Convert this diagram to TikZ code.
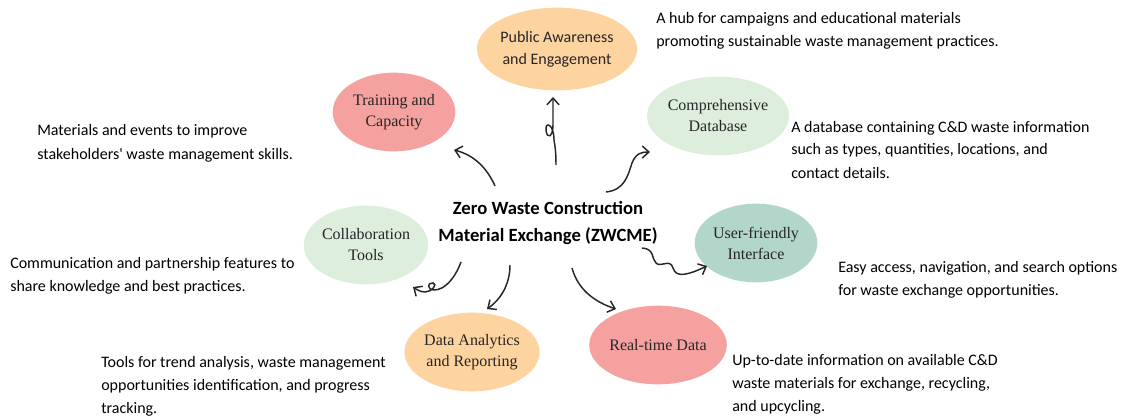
\documentclass[tikz,border=0pt]{standalone}
\usepackage{fontspec}
\setmainfont{Liberation Serif}
\newfontfamily\calibri{Carlito}
\usepackage{tikz}
\usetikzlibrary{arrows.meta,shapes}
\definecolor{peach}{HTML}{FDD3A0}
\definecolor{rose}{HTML}{F4A19F}
\definecolor{mint}{HTML}{DDEEDC}
\definecolor{sage}{HTML}{B3D6CA}
\tikzstyle{feature}=[ellipse,minimum width=92pt,minimum height=59pt,inner sep=0pt,align=center,text=black!85,font=\fontsize{12}{15.75}\selectfont]
\tikzstyle{note}=[anchor=base west,inner sep=0pt,align=left,font=\calibri\fontsize{12}{17.25}\selectfont]
\tikzstyle{link} = [draw,line width=1.1pt,black!85,-{Straight Barb[length=5pt,width=9pt]}]

\begin{document}
\begin{tikzpicture}[x=0.75pt,y=-0.75pt]
        \useasboundingbox (0,0) rectangle (1126,417);
        % centre
        \node[align=center,font=\calibri\bfseries\fontsize{14}{20.25}\selectfont] (zwcme) at (548,223) {Zero Waste Construction\\Material Exchange (ZWCME)};
        % features
        \node[feature,fill=peach,minimum width=101pt,minimum height=62pt,font=\calibri\fontsize{12}{16.5}\selectfont] (public) at (557,49) {Public Awareness\\and Engagement};
        \node[feature,fill=rose] (training) at (394,112) {Training and\\Capacity};
        \node[feature,fill=mint] (database) at (718,116) {Comprehensive\\Database};
        \node[feature,fill=mint] (collab) at (366,245) {Collaboration\\Tools};
        \node[feature,fill=sage] (interface) at (756,243) {User-friendly\\Interface};
        \node[feature,fill=peach] (analytics) at (472,352) {Data Analytics\\and Reporting};
        \node[feature,fill=rose] (realtime) at (658,345) {Real-time Data};
        % notes (placed at the baseline of their last line)
        \node[note] (publicnote) at (656,47) {A hub for campaigns and educational materials\\promoting sustainable waste management practices.};
        \node[note] (trainingnote) at (37,159) {Materials and events to improve\\stakeholders' waste management skills.};
        \node[note] (databasenote) at (791,178) {A database containing C\&D waste information\\such as types, quantities, locations, and\\contact details.};
        \node[note] (collabnote) at (10,291) {Communication and partnership features to\\share knowledge and best practices.};
        \node[note] (interfacenote) at (838,295) {Easy access, navigation, and search options\\for waste exchange opportunities.};
        \node[note] (analyticsnote) at (101,413) {Tools for trend analysis, waste management\\opportunities identification, and progress\\tracking.};
        \node[note] (realtimenote) at (732,411) {Up-to-date information on available C\&D\\waste materials for exchange, recycling,\\and upcycling.};
        % arrow ends
        \coordinate (t0) at (495,186); \coordinate (t1) at (454,150);
        \coordinate (p0) at (556,165); \coordinate (p1) at (553,97);
        \coordinate (d0) at (606,192); \coordinate (d1) at (650,152);
        \coordinate (u0) at (642,248); \coordinate (u1) at (707,266);
        \coordinate (r0) at (572,268); \coordinate (r1) at (616,309);
        \coordinate (a0) at (510,265); \coordinate (a1) at (487,309);
        \coordinate (c0) at (461,262); \coordinate (c1) at (413,287);
        \draw[link] (t0) .. controls (487,168) and (474,155) .. (t1);
        \draw[link] (p0) .. controls (556,152) and (555,146) .. (554,140)
          .. controls (554,124) and (545,121) .. (546,130)
          .. controls (547,140) and (553,137) .. (553,125)
          .. controls (553,115) and (553,105) .. (p1);
        \draw[link] (d0) .. controls (625,190) and (628,175) .. (632,163)
          .. controls (636,153) and (642,152) .. (d1);
        \draw[link] (u0) .. controls (655,249) and (651,258) .. (656,263)
          .. controls (661,268) and (670,258) .. (673,268)
          .. controls (676,279) and (690,274) .. (u1);
        \draw[link] (r0) .. controls (578,290) and (595,302) .. (r1);
        \draw[link] (a0) .. controls (510,285) and (500,300) .. (a1);
        \draw[link] (c0) .. controls (455,278) and (445,290) .. (434,290)
          .. controls (427,290) and (427,282) .. (433,283)
          .. controls (438,284) and (432,292) .. (425,292)
          .. controls (420,292) and (416,289) .. (c1);
\end{tikzpicture}
\end{document}
